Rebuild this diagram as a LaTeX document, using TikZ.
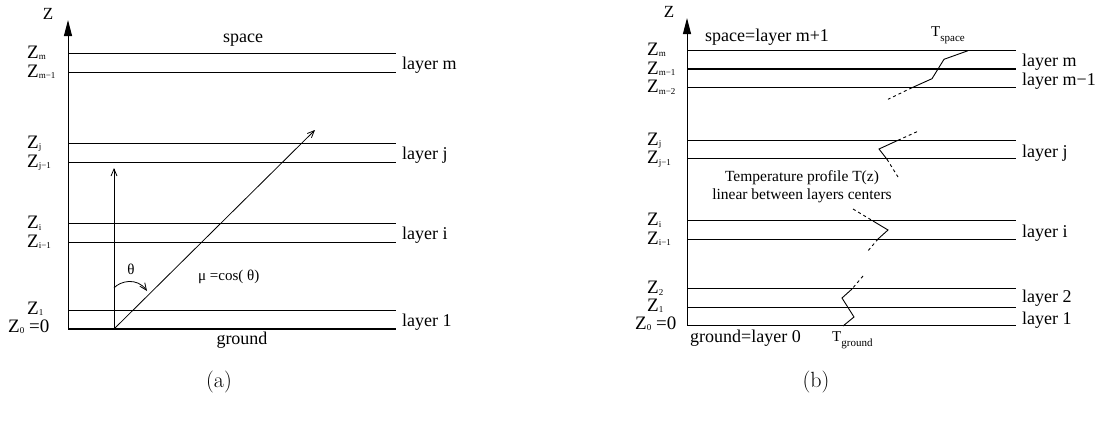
\documentclass[tikz,border=0pt]{standalone}
\usepackage{fontspec}
\newfontfamily\tms{Liberation Serif}
\usetikzlibrary{arrows.meta}
\newcommand{\zsub}[1]{Z\raisebox{-1.5pt}{\fontsize{9}{9}\selectfont #1}}
\begin{document}
\begin{tikzpicture}[x=1pt,y=-1pt,
  lay/.style={line width=0.9pt},
  thk/.style={line width=1.8pt},
  gnd/.style={line width=1.4pt},
  axis/.style={line width=1pt,-{Triangle[length=16pt,width=8pt]}},
  ray/.style={line width=0.8pt,-{Straight Barb[length=7pt,width=6pt]}},
  prof/.style={line width=0.9pt},
  profd/.style={line width=0.9pt,dash pattern=on 3pt off 3pt},
  lbl/.style={font=\tms\fontsize{18}{20}\selectfont, inner sep=0pt, anchor=base west},
  zl/.style={font=\tms\fontsize{19}{20}\selectfont, inner sep=0pt, anchor=base west},
  mid/.style={font=\tms\fontsize{18}{20}\selectfont, inner sep=0pt, anchor=base},
  sml/.style={font=\tms\fontsize{15.5}{18}\selectfont, inner sep=0pt, anchor=base},
  captxt/.style={font=\fontsize{22}{24}\selectfont, inner sep=0pt}]
\useasboundingbox (0,0) rectangle (1109,423);

% ---------------- panel (a) ----------------
\coordinate (aO) at (68,329);
\coordinate (aT) at (68,20);
\draw[axis] (aO) -- (aT);
\node[font=\tms\fontsize{17}{18}\selectfont, inner sep=0pt] (aZ) at (48,14) {Z};
\foreach \y in {53,72,143,162,223.5,242,310}{
  \draw[lay] (68,\y) -- (396,\y);
}
\draw[gnd] (aO) -- (396,329);
\node[mid] (aspace) at (243,42) {space};
\node[mid] (aground) at (242,344) {ground};
\node[lbl] (laym) at (402,69) {layer m};
\node[lbl] (layj) at (402,159) {layer j};
\node[lbl] (layi) at (402,239) {layer i};
\node[lbl] (lay1) at (402,326) {layer 1};
\node[zl] (zam)  at (27,58)   {\zsub{m}};
\node[zl] (zamm) at (27,77)   {\zsub{m−1}};
\node[zl] (zaj)  at (27,148)  {\zsub{j}};
\node[zl] (zajm) at (27,167)  {\zsub{j−1}};
\node[zl] (zai)  at (27,228.5){\zsub{i}};
\node[zl] (zaim) at (27,247)  {\zsub{i−1}};
\node[zl] (za1)  at (27,314)  {\zsub{1}};
\node[zl] (za0)  at (8,332)   {\zsub{0} =0};
\coordinate (src) at (114,329);
\coordinate (vtop) at (114,168);
\coordinate (dtop) at (315,130);
\draw[ray] (src) -- (vtop);
\draw[ray] (src) -- (dtop);
\coordinate (arcA) at (114,288);
\coordinate (arcB) at (147,291);
\draw[ray] (arcA) .. controls (120,281) and (137,277) .. (arcB);
\node[font=\tms\fontsize{15}{18}\selectfont, inner sep=0pt] (theta) at (131,269.5) {θ};
\node[font=\tms\fontsize{15}{18}\selectfont, inner sep=0pt, anchor=base west] (mu) at (198,280) {μ =cos( θ)};
\node[captxt] (capa) at (219,382) {(a)};

% ---------------- panel (b) ----------------
\coordinate (bO) at (687,325.7);
\coordinate (bT) at (687,18);
\draw[axis] (bO) -- (bT);
\node[font=\tms\fontsize{17}{18}\selectfont, inner sep=0pt] (bZ) at (669,12) {Z};
\foreach \y in {50.5,87.5,140,158.7,220.7,239,288.7,307}{
  \draw[lay] (687,\y) -- (1016,\y);
}
\draw[thk] (687,69) -- (1016,69);
\draw[gnd] (bO) -- (1016,325.7);
\node[lbl] (bspace) at (705,41) {space=layer m+1};
\node[lbl] (bground) at (690,342) {ground=layer 0};
\node[font=\tms\fontsize{15}{18}\selectfont, inner sep=0pt, anchor=base west] (tsp) at (931,36) {T\raisebox{-5pt}{\fontsize{11}{11}\selectfont space}};
\node[font=\tms\fontsize{15}{18}\selectfont, inner sep=0pt, anchor=base west] (tgr) at (832,341) {T\raisebox{-5pt}{\fontsize{11}{11}\selectfont ground}};
\node[lbl] (blm)  at (1022,66)  {layer m};
\node[lbl] (blmm) at (1022,85)  {layer m−1};
\node[lbl] (blj)  at (1022,157) {layer j};
\node[lbl] (bli)  at (1022,237) {layer i};
\node[lbl] (bl2)  at (1022,302) {layer 2};
\node[lbl] (bl1)  at (1022,324) {layer 1};
\node[zl] (zbm)   at (647,55)   {\zsub{m}};
\node[zl] (zbmm)  at (647,74)   {\zsub{m−1}};
\node[zl] (zbmmm) at (647,92.5) {\zsub{m−2}};
\node[zl] (zbj)   at (647,145)  {\zsub{j}};
\node[zl] (zbjm)  at (647,163.7){\zsub{j−1}};
\node[zl] (zbi)   at (647,225.7){\zsub{i}};
\node[zl] (zbim)  at (647,244)  {\zsub{i−1}};
\node[zl] (zb2)   at (647,293.7){\zsub{2}};
\node[zl] (zb1)   at (647,311)  {\zsub{1}};
\node[zl] (zb0)   at (635,329)  {\zsub{0} =0};
\node[sml] (tp1) at (802,181) {Temperature profile T(z)};
\node[sml] (tp2) at (802,199) {linear between layers centers};
% temperature profile
\draw[prof] (968,50.7) -- (944,59.3) -- (932,78.7) -- (912,87.7);
\draw[profd] (912,87.7) -- (888,99.3);
\draw[profd] (917,131.7) -- (898,140.3);
\draw[prof] (898,140.3) -- (879,149) -- (887,159.3);
\draw[profd] (887,159.3) -- (898,177);
\draw[profd] (853,209) -- (873,221);
\draw[prof] (873,221) -- (888,230) -- (878,239);
\draw[profd] (878,239) -- (867,252);
\draw[profd] (863,276) -- (852,289);
\draw[prof] (852,289) -- (842,298) -- (854,317) -- (843,326);
\node[captxt] (capb) at (816,382) {(b)};
\end{tikzpicture}
\end{document}
